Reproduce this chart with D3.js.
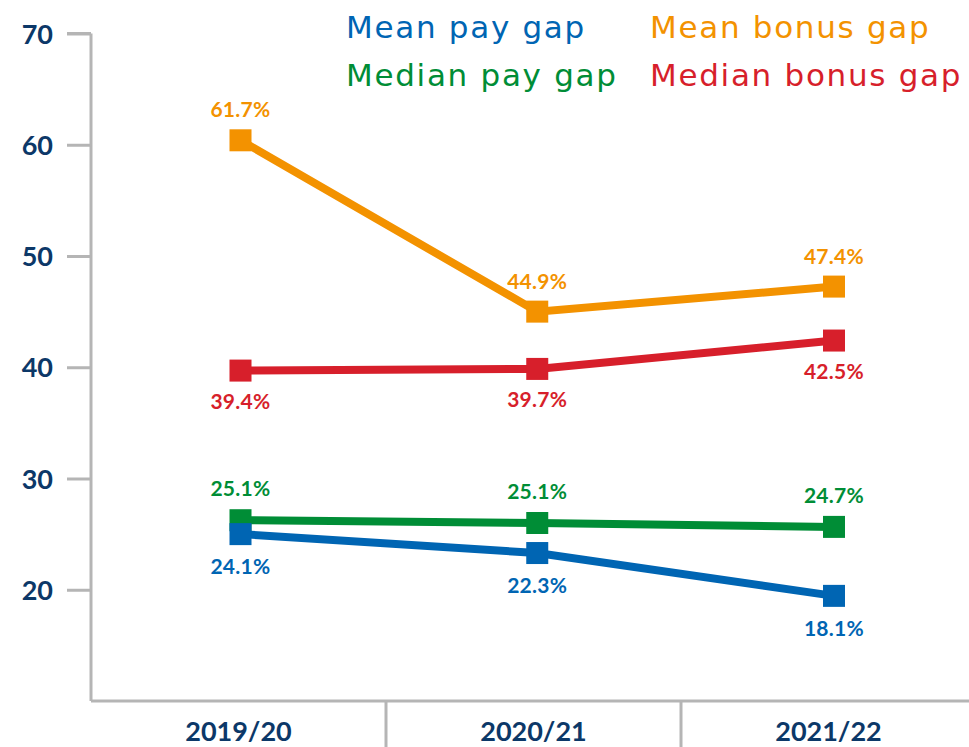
<!DOCTYPE html>
<html>
<head>
<meta charset="utf-8">
<script src="https://cdn.jsdelivr.net/npm/d3@7"></script>
<style>
  html, body { margin: 0; padding: 0; background: #fff; }
  svg { display: block; font-family: Lato, "Open Sans", sans-serif; }
</style>
</head>
<body>
<svg id="chart" width="969" height="747"></svg>
<script>
const years = ["2019/20", "2020/21", "2021/22"];
const yTicks = [20, 30, 40, 50, 60, 70];

// plotted positions, labels as printed
const meanPay = [25.0, 23.3, 19.45];
const medianPay = [26.25, 26.0, 25.65];
const meanBonus = [60.4, 45.0, 47.25];
const medianBonus = [39.7, 39.85, 42.4];

const meanPayLabels = ["24.1%", "22.3%", "18.1%"];
const medianPayLabels = ["25.1%", "25.1%", "24.7%"];
const meanBonusLabels = ["61.7%", "44.9%", "47.4%"];
const medianBonusLabels = ["39.4%", "39.7%", "42.5%"];

const navy = "#0c3868";
const grey = "#b5b5b5";

let series = [
  { name: "Mean bonus gap", values: meanBonus, labels: meanBonusLabels, color: "#f39200", dy: -23 },
  { name: "Median bonus gap", values: medianBonus, labels: medianBonusLabels, color: "#d71f2b", dy: 38 },
  { name: "Median pay gap", values: medianPay, labels: medianPayLabels, color: "#008d36", dy: -24 },
  { name: "Mean pay gap", values: meanPay, labels: meanPayLabels, color: "#0065b3", dy: 40 }
];

let svg = d3.select("#chart");

let x = d3.scaleBand().domain(years).range([91, 976]);
let xp = d3.scalePoint().domain(years).range([240.5, 834]);
let y = d3.scaleLinear().domain([10, 70]).range([701, 33.5]);

// y axis
let yAxis = svg.append("g")
  .attr("transform", "translate(91,0)")
  .call(d3.axisLeft(y).tickValues(yTicks).tickSize(24).tickPadding(14))
  .attr("font-family", null);
yAxis.select(".domain").attr("stroke", grey).attr("stroke-width", 3)
  .attr("d", "M0," + y(70) + "H-24M0," + y(70) + "V" + y(10));
yAxis.selectAll(".tick line").attr("stroke", grey).attr("stroke-width", 3);
yAxis.selectAll(".tick text")
  .attr("fill", navy)
  .style("font-size", "27px")
  .style("font-weight", "700")
  .attr("dy", "0.36em");

// x axis
let xAxis = svg.append("g")
  .attr("transform", "translate(0," + y(10) + ")")
  .call(d3.axisBottom(x).tickSize(0).tickPadding(0))
  .attr("font-family", null);
xAxis.select(".domain").attr("stroke", grey).attr("stroke-width", 3)
  .attr("d", "M91,0H976");
xAxis.selectAll(".tick text")
  .attr("fill", navy)
  .attr("y", 40)
  .attr("dy", 0)
  .style("font-size", "27px")
  .style("font-weight", "700");
xAxis.selectAll(".sep")
  .data(years.slice(1))
  .enter().append("line")
    .attr("class", "sep")
    .attr("x1", d => x(d)).attr("x2", d => x(d))
    .attr("y1", 0).attr("y2", 50)
    .attr("stroke", grey).attr("stroke-width", 3);

// lines, markers, labels
let line = d3.line()
  .x((d, i) => xp(years[i]))
  .y(d => y(d));

let g = svg.selectAll(".series")
  .data(series)
  .enter().append("g")
    .attr("class", "series");

g.append("path")
  .attr("d", d => line(d.values))
  .attr("fill", "none")
  .attr("stroke", d => d.color)
  .attr("stroke-width", 8);

g.selectAll("rect")
  .data(d => d.values.map((v, i) => ({ v: v, i: i, color: d.color })))
  .enter().append("rect")
    .attr("x", d => xp(years[d.i]) - 11)
    .attr("y", d => y(d.v) - 11)
    .attr("width", 22)
    .attr("height", 22)
    .attr("fill", d => d.color);

g.selectAll("text.lbl")
  .data(d => d.values.map((v, i) => ({ v: v, i: i, color: d.color, dy: d.dy, text: d.labels[i] })))
  .enter().append("text")
    .attr("class", "lbl")
    .attr("x", d => xp(years[d.i]))
    .attr("y", d => y(d.v) + d.dy)
    .attr("text-anchor", "middle")
    .attr("fill", d => d.color)
    .style("font-size", "21px")
    .style("font-weight", "700")
    .style("letter-spacing", "0.3px")
    .text(d => d.text);

// legend
let legendPos = {
  "Mean pay gap": [346, 38],
  "Median pay gap": [346, 86],
  "Mean bonus gap": [650, 38],
  "Median bonus gap": [650, 86]
};
svg.selectAll(".legend")
  .data(series)
  .enter().append("text")
    .attr("class", "legend")
    .attr("x", d => legendPos[d.name][0])
    .attr("y", d => legendPos[d.name][1])
    .attr("fill", d => d.color)
    .style("font-family", "'DejaVu Sans', sans-serif")
    .style("font-size", "31px")
    .style("letter-spacing", "1.7px")
    .text(d => d.name);
</script>
</body>
</html>
